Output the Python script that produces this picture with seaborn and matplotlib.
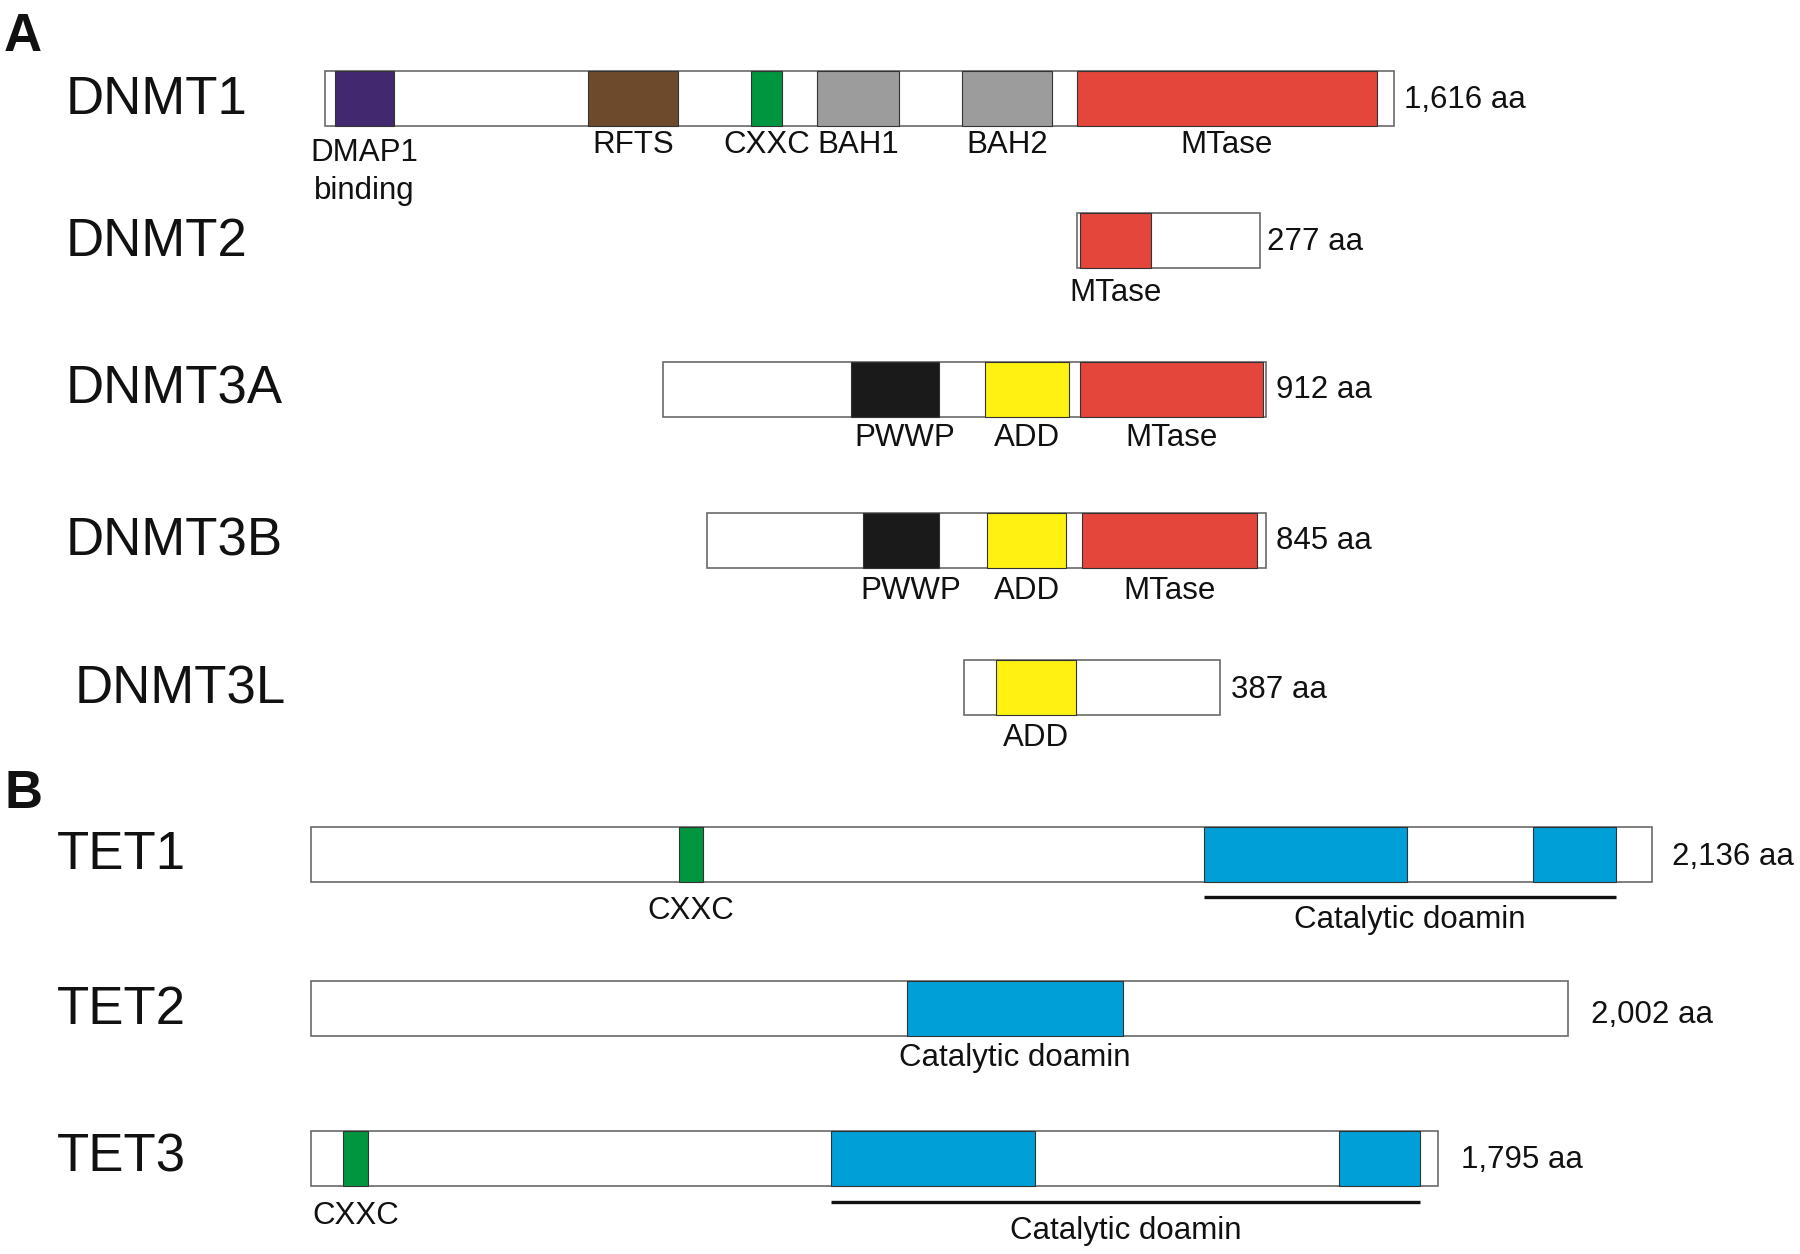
import numpy as np
import matplotlib.pyplot as plt
import seaborn as sns
import pandas as pd

sns.set_theme(style="white")
plt.rcParams["font.family"] = ["Liberation Sans", "DejaVu Sans"]

# proteins and their lengths (aa)
proteins = ["DNMT1", "DNMT2", "DNMT3A", "DNMT3B", "DNMT3L", "TET1", "TET2", "TET3"]
lengths_aa = [1616, 277, 912, 845, 387, 2136, 2002, 1795]
length_labels = ["1,616 aa", "277 aa", "912 aa", "845 aa", "387 aa",
                 "2,136 aa", "2,002 aa", "1,795 aa"]

# domains, in aa
domain_protein = ["DNMT1", "DNMT1", "DNMT1", "DNMT1", "DNMT1", "DNMT1",
                  "DNMT2",
                  "DNMT3A", "DNMT3A", "DNMT3A",
                  "DNMT3B", "DNMT3B", "DNMT3B",
                  "DNMT3L",
                  "TET1", "TET1", "TET1",
                  "TET2",
                  "TET3", "TET3", "TET3"]
domain_start = [15, 398, 644, 744, 963, 1137,
                4,
                284, 487, 630,
                236, 423, 567,
                48,
                586, 1422, 1946,
                949,
                51, 828, 1637]
domain_end = [104, 534, 691, 868, 1099, 1590,
              112,
              417, 614, 907,
              351, 543, 831,
              169,
              624, 1745, 2078,
              1293,
              91, 1153, 1766]
domain_type = ["DMAP1", "RFTS", "CXXC", "BAH", "BAH", "MTase",
               "MTase",
               "PWWP", "ADD", "MTase",
               "PWWP", "ADD", "MTase",
               "ADD",
               "CXXC", "Catalytic", "Catalytic",
               "Catalytic",
               "CXXC", "Catalytic", "Catalytic"]
domain_label = ["DMAP1\nbinding", "RFTS", "CXXC", "BAH1", "BAH2", "MTase",
                "MTase",
                "PWWP", "ADD", "MTase",
                "PWWP", "ADD", "MTase",
                "ADD",
                "CXXC", "", "",
                "Catalytic doamin",
                "CXXC", "", ""]

# catalytic domain spans marked with an underline
span_protein = ["TET1", "TET3"]
span_start = [1422, 828]
span_end = [2078, 1766]
span_label = ["Catalytic doamin", "Catalytic doamin"]

domain_colors = {
    "DMAP1": "#42286f", "RFTS": "#6e4a2c", "CXXC": "#00963f", "BAH": "#9c9c9c",
    "MTase": "#e5463b", "PWWP": "#1a1a1a", "ADD": "#fff212", "Catalytic": "#009fd7",
}

# layout (pixels)
row_left = [325, 1077, 663, 707, 964, 311, 311, 311]
px_per_aa = [0.6615] * 5 + [0.628] * 3
row_top = [71, 213, 362, 513, 660, 827, 981, 1131]
bar_h = 55
name_x = [66, 66, 66, 66, 75, 57, 57, 57]
name_y = [95, 237, 385, 536, 684, 850, 1005, 1152]
len_gap = [10, 7, 10, 10, 11, 20, 23, 23]
len_y = [97, 239, 387, 538, 687, 854, 1012, 1157]
label_y = [142, 290, 435, 588, 735, 908, 1055, 1213]
label_dx = {"PWWP": 10}
label_dy = {"DMAP1\nbinding": 8}
line_step = 38
span_line_y = [897, 1202]
span_label_y = [917, 1228]
small = 22.5

domains = pd.DataFrame({"protein": domain_protein, "start": domain_start,
                        "end": domain_end, "type": domain_type,
                        "label": domain_label})
idx = {p: i for i, p in enumerate(proteins)}


def to_px(p, aa):
    i = idx[p]
    return row_left[i] + np.asarray(aa) * px_per_aa[i]


def put(x, cy, s, size, ha="center", **kw):
    # place each line so that its cap height is centred on cy
    for k, line in enumerate(s.split("\n")):
        ax.text(x, cy + k * line_step + 0.36 * size * 100 / 72, line,
                fontsize=size, ha=ha, va="baseline", color="#111111", **kw)


fig = plt.figure(figsize=(18, 12.54), dpi=100)
ax = fig.add_axes([0, 0, 1, 1])
ax.set_xlim(0, 1800)
ax.set_ylim(1254, 0)
ax.axis("off")

mids = np.array(row_top) + bar_h / 2
widths = np.array(lengths_aa) * np.array(px_per_aa)
ax.barh(mids, widths, left=row_left, height=bar_h, color="white",
        edgecolor="#6a6a6a", linewidth=1.2, zorder=1)

d_left = [to_px(p, s) for p, s in zip(domains.protein, domains.start)]
d_right = [to_px(p, e) for p, e in zip(domains.protein, domains.end)]
d_mid = [mids[idx[p]] for p in domains.protein]
ax.barh(d_mid, np.array(d_right) - np.array(d_left), left=d_left,
        height=bar_h, color=[domain_colors[t] for t in domains.type],
        edgecolor="#333333", linewidth=0.8, zorder=2)

for p, l, r, lab in zip(domains.protein, d_left, d_right, domains.label):
    if lab:
        put((l + r) / 2 + label_dx.get(lab, 0),
            label_y[idx[p]] + label_dy.get(lab, 0), lab, small)

for p, s, e, lab, ly, ty in zip(span_protein, span_start, span_end, span_label,
                                span_line_y, span_label_y):
    x0, x1 = to_px(p, s), to_px(p, e)
    ax.hlines(ly, x0, x1, color="#111111", linewidth=2.4)
    put((x0 + x1) / 2, ty, lab, small)

for i, p in enumerate(proteins):
    put(name_x[i], name_y[i], p, 38, ha="left")
    put(row_left[i] + widths[i] + len_gap[i], len_y[i], length_labels[i], small, ha="left")

put(4, 32, "A", 38, ha="left", fontweight="bold")
put(4, 789, "B", 38, ha="left", fontweight="bold")

fig.savefig("out.png", dpi=100, facecolor="white")
